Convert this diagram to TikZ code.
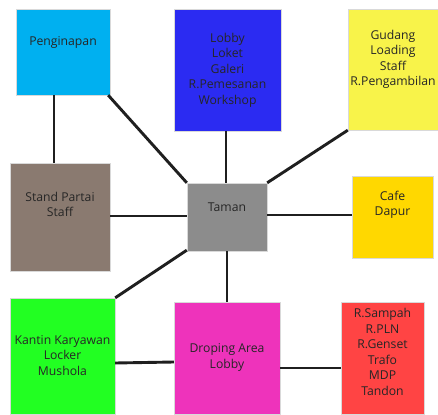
\documentclass[tikz,border=0pt]{standalone}
\usepackage{fontspec}
\setmainfont{Open Sans}
\begin{document}
\begin{tikzpicture}[x=1pt,y=-1pt,
  box/.style={draw=white!85!black, line width=0.4pt, align=center, inner sep=0pt,
    font=\fontsize{12.2}{15.5}\selectfont, text=black!85},
  link/.style={line width=2.9pt, draw=black!88}]
\useasboundingbox (0,0) rectangle (438,414);
\definecolor{cpeng}{HTML}{00B0F0}
\definecolor{clobby}{HTML}{2B2BF2}
\definecolor{cgud}{HTML}{F8F34A}
\definecolor{cstand}{HTML}{8A7A70}
\definecolor{ctaman}{HTML}{8C8C8C}
\definecolor{ccafe}{HTML}{FFD800}
\definecolor{ckantin}{HTML}{22FF22}
\definecolor{cdrop}{HTML}{EE33BB}
\definecolor{cred}{HTML}{FF4444}
\node[box, fill=cpeng, minimum width=94, minimum height=86] (peng) at (63,52) {Penginapan\\[6pt]};
\node[box, fill=clobby, minimum width=107, minimum height=122] (lobby) at (227.5,70) {Lobby\\Loket\\Galeri\\R.Pemesanan\\Workshop};
\node[box, fill=cgud, minimum width=90, minimum height=121] (gud) at (393,69.5) {Gudang\\Loading\\Staff\\R.Pengambilan\\[8pt]};
\node[box, fill=cstand, minimum width=100, minimum height=108] (stand) at (60,217) {Stand Partai\\Staff\\[10pt]};
\node[box, fill=ctaman, minimum width=80, minimum height=68] (taman) at (227,217) {Taman\\[5pt]};
\node[box, fill=ccafe, minimum width=81, minimum height=82] (cafe) at (392.5,217) {Cafe\\Dapur\\[12pt]};
\node[box, fill=ckantin, minimum width=105, minimum height=116] (kantin) at (62.5,356) {Kantin Karyawan\\Locker\\Mushola\\[-14pt]};
\node[box, fill=cdrop, minimum width=106, minimum height=112] (drop) at (227,358) {Droping Area\\Lobby\\[-12pt]};
\node[box, fill=cred, minimum width=83, minimum height=112] (red) at (382.5,358) {R.Sampah\\R.PLN\\R.Genset\\Trafo\\MDP\\Tandon\\[-3pt]};
\draw[link] ([xshift=-9pt]peng.south) -- ([xshift=-6pt]stand.north);
\draw[link] ([xshift=-2pt]peng.south east) -- (taman.north west);
\draw[link] ([xshift=-1.5pt]lobby.south) -- ([xshift=-1pt]taman.north);
\draw[link] (gud.south west) -- (taman.north east);
\draw[link] ([yshift=1pt]stand.east) -- ([yshift=1pt]taman.west);
\draw[link] ([yshift=2pt]taman.east) -- ([yshift=2pt]cafe.west);
\draw[link] ([yshift=1pt]taman.south west) -- (kantin.north east);
\draw[link] (taman.south) -- (drop.north);
\draw[link] ([yshift=-7pt]kantin.east) -- ([yshift=-4pt]drop.west);
\draw[link] ([yshift=-10pt]drop.east) -- ([yshift=-10pt]red.west);
\end{tikzpicture}
\end{document}
